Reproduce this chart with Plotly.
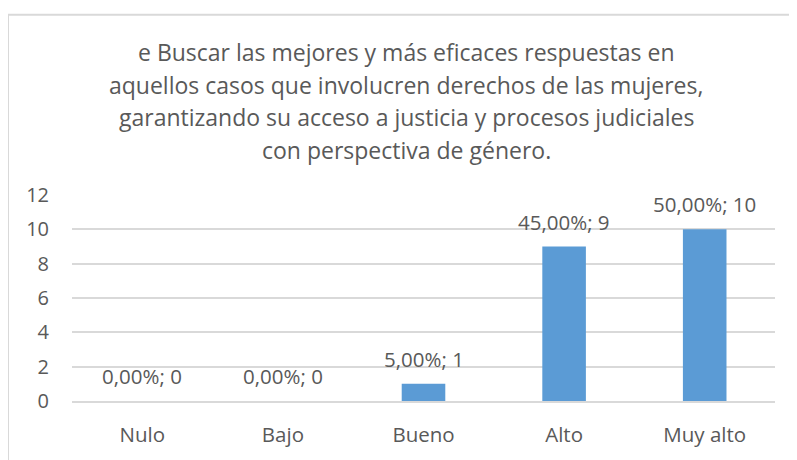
import plotly.graph_objects as go

categories = ["Nulo", "Bajo", "Bueno", "Alto", "Muy alto"]
counts = [0, 0, 1, 9, 10]
percents = ["0,00%", "0,00%", "5,00%", "45,00%", "50,00%"]
title_lines = [
    "e Buscar las mejores y más eficaces respuestas en",
    "aquellos casos que involucren derechos de las mujeres,",
    "garantizando su acceso a justicia y procesos judiciales",
    "con perspectiva de género.",
]
y_ticks = [0, 2, 4, 6, 8, 10, 12]

FONT = "Open Sans"
TXT = "#595959"
GRID = "#D9D9D9"

# page body has an 8px margin: figure coords = screen coords - 8
OFF = 8
W, H = 797 - OFF, 460 - OFF
ML = 72 - OFF
MR = W - (775 - OFF)
MT = 195 - OFF
MB = H - (404 - OFF)
PW = W - ML - MR
PH = H - MT - MB

def px_to_paper_x(px):
    return (px - OFF - ML) / PW

def px_to_paper_y(py):
    return (H - MB - (py - OFF)) / PH

fig = go.Figure()
fig.add_trace(go.Bar(
    x=categories, y=counts,
    marker=dict(color="#5B9BD5", line=dict(width=0)),
    hoverinfo="skip",
))

annotations = []
for c, v, p in zip(categories, counts, percents):
    annotations.append(dict(
        x=c, y=v, xref="x", yref="y", text=f"{p}; {v}",
        showarrow=False, yanchor="middle", yshift=25,
        font=dict(family=FONT, size=20.5, color=TXT),
    ))

title_y = [50, 83, 116, 149]
for line, py in zip(title_lines, title_y):
    annotations.append(dict(
        x=px_to_paper_x(406), y=px_to_paper_y(py), xref="paper", yref="paper",
        text=line, showarrow=False, xanchor="center", yanchor="middle",
        font=dict(family=FONT, size=23, color=TXT),
    ))

bx = px_to_paper_x(8)
by = px_to_paper_y(12)
shapes = [
    dict(type="line", xref="paper", yref="paper", x0=bx, x1=bx, y0=-1, y1=by,
         line=dict(color=GRID, width=2)),
    dict(type="line", xref="paper", yref="paper", x0=bx, x1=1.5, y0=by, y1=by,
         line=dict(color=GRID, width=2)),
]

fig.update_layout(
    width=W, height=H,
    margin=dict(l=ML, r=MR, t=MT, b=MB, pad=0),
    paper_bgcolor="white", plot_bgcolor="white",
    bargap=0.69,
    showlegend=False,
    annotations=annotations,
    shapes=shapes,
    font=dict(family=FONT, color=TXT),
)
fig.update_xaxes(
    showgrid=False, showline=True, linecolor=GRID, linewidth=1.5,
    ticks="", ticklabelstandoff=15,
    tickfont=dict(family=FONT, size=20.5, color=TXT),
)
fig.update_yaxes(
    range=[0, 12], tickvals=y_ticks, showgrid=True, gridcolor=GRID, gridwidth=1.5,
    zeroline=False, showline=False, ticks="", ticklabelstandoff=22,
    tickfont=dict(family=FONT, size=20, color=TXT),
)

fig.write_html("out.html")
